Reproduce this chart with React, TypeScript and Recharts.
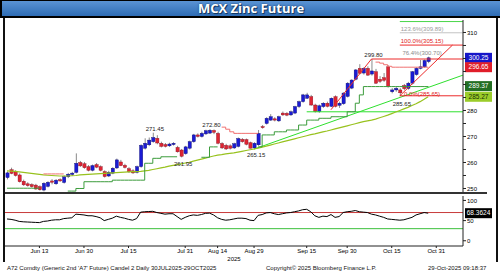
import React from 'react';
import { ComposedChart, Bar, Line, XAxis, YAxis, ReferenceLine, ReferenceDot } from 'recharts';

// daily candles, index 0 = first session on the chart
const opens = [
  254.2, 257.2, 256.5, 255.2, 252.8, 251.8, 251.5, 251.3, 250.7, 249.4,
  250.8, 252.9, 251.8, 253.4, 252.3, 254.5, 255.4, 256.2, 260.0, 259.5,
  258.4, 257.0, 259.2, 258.4, 256.5, 254.8, 255.9, 257.9, 260.2, 258.9,
  257.6, 256.8, 256.2, 258.4, 265.5, 266.8, 268.0, 269.3, 267.4, 266.9,
  266.4, 266.9, 265.8, 264.8, 263.4, 265.5, 268.0, 270.6, 270.0, 271.0,
  271.3, 272.3, 271.2, 267.3, 266.6, 266.4, 265.6, 266.2, 268.9, 268.8,
  267.6, 265.6, 266.8, 273.8, 275.0, 276.3, 276.8, 276.0, 279.0, 278.9,
  278.3, 279.0, 281.5, 283.4, 284.7, 285.3, 282.1, 279.6, 281.5, 282.8,
  281.6, 285.3, 282.0, 282.6, 285.4, 288.6, 292.0, 296.2, 294.4, 296.2,
  294.0, 294.9, 292.0, 292.6, 296.8, 287.2, 287.9, 287.9, 289.6, 288.5,
  290.5, 293.8, 296.2, 296.8, 298.8,
];
const highs = [
  256.5, 258.0, 257.0, 255.8, 253.4, 252.4, 252.0, 251.8, 251.2, 252.4,
  252.8, 253.6, 253.6, 253.9, 255.0, 256.0, 256.4, 263.5, 260.6, 260.2,
  259.0, 259.2, 259.8, 258.9, 257.0, 256.8, 258.2, 261.5, 261.0, 259.5,
  258.2, 257.4, 258.8, 267.0, 269.3, 269.6, 271.45, 270.5, 268.0, 267.5,
  267.6, 267.8, 266.4, 265.2, 266.4, 268.4, 271.0, 271.2, 271.8, 272.6,
  272.8, 272.7, 271.8, 267.8, 267.2, 267.0, 267.6, 269.6, 269.4, 269.2,
  268.0, 267.8, 272.5, 274.4, 277.4, 278.6, 277.4, 278.0, 279.6, 279.4,
  280.0, 281.8, 283.8, 286.4, 286.8, 286.0, 282.6, 282.3, 283.2, 283.4,
  285.0, 285.8, 283.4, 287.0, 290.9, 292.0, 295.9, 297.8, 296.6, 297.0,
  299.8, 296.0, 293.2, 294.4, 297.4, 288.6, 289.0, 288.6, 290.2, 291.0,
  295.2, 296.6, 299.4, 299.6, 300.7,
];
const lows = [
  253.5, 255.5, 254.6, 252.3, 251.0, 250.7, 250.3, 249.5, 249.2, 248.9,
  250.4, 251.6, 251.4, 252.6, 251.9, 254.0, 254.8, 255.8, 258.3, 257.6,
  256.6, 256.6, 257.8, 256.6, 254.2, 254.4, 255.5, 257.5, 258.6, 257.7,
  256.0, 255.6, 255.8, 258.0, 265.0, 266.3, 267.6, 267.0, 265.8, 265.8,
  266.0, 266.5, 263.8, 261.95, 263.0, 265.0, 267.6, 269.6, 269.6, 270.6,
  271.0, 270.9, 267.0, 265.2, 264.8, 265.0, 265.2, 265.8, 267.6, 266.6,
  265.4, 265.15, 266.4, 273.0, 274.6, 276.0, 275.8, 275.6, 277.9, 277.8,
  277.9, 278.6, 281.0, 283.0, 284.4, 281.8, 279.2, 279.1, 281.0, 281.2,
  281.3, 281.2, 281.0, 282.2, 285.0, 288.2, 291.6, 293.9, 293.8, 293.3,
  293.4, 290.2, 290.6, 291.0, 288.8, 286.6, 287.2, 285.65, 287.8, 288.0,
  290.0, 293.4, 295.8, 296.4, 298.2,
];
const closes = [
  256.0, 255.8, 255.0, 252.6, 251.4, 251.1, 250.7, 249.8, 249.5, 252.0,
  252.4, 252.4, 253.2, 252.9, 254.5, 255.5, 255.9, 259.7, 258.7, 258.0,
  257.0, 258.8, 258.2, 257.0, 254.6, 256.2, 257.8, 261.0, 258.8, 258.1,
  256.4, 256.0, 258.4, 266.6, 267.4, 268.6, 269.6, 267.5, 266.2, 266.2,
  267.1, 267.4, 264.1, 262.4, 266.0, 268.0, 270.6, 270.0, 271.2, 272.2,
  272.4, 271.6, 267.4, 265.6, 265.2, 265.5, 267.2, 269.2, 268.0, 267.0,
  265.5, 267.4, 271.2, 273.4, 277.0, 277.6, 276.3, 277.6, 278.3, 278.2,
  279.5, 281.5, 283.4, 286.0, 286.0, 282.1, 279.6, 281.8, 282.8, 281.6,
  284.7, 281.6, 282.8, 286.7, 290.5, 291.7, 295.6, 294.3, 296.2, 293.6,
  295.2, 290.5, 291.2, 291.6, 289.2, 287.9, 288.5, 286.8, 288.4, 290.5,
  294.9, 296.2, 296.8, 299.2, 300.25,
];

// olive moving average
const movingAvg = [
  256.8, 256.7, 256.6, 256.4, 256.2, 256.0, 255.8, 255.6, 255.4, 255.2,
  255.1, 255.0, 254.9, 254.8, 254.8, 254.8, 254.9, 255.0, 255.2, 255.3,
  255.4, 255.5, 255.6, 255.7, 255.8, 255.9, 256.0, 256.1, 256.2, 256.3,
  256.4, 256.5, 256.5, 256.6, 256.8, 257.0, 257.3, 257.6, 257.9, 258.2,
  258.6, 258.9, 259.2, 259.5, 259.8, 260.1, 260.5, 260.9, 261.3, 261.7,
  262.1, 262.5, 262.8, 263.0, 263.3, 263.5, 263.7, 264.0, 264.3, 264.6,
  264.9, 265.2, 265.5, 265.9, 266.3, 266.7, 267.1, 267.5, 267.9, 268.3,
  268.7, 269.1, 269.5, 269.9, 270.3, 270.7, 271.0, 271.4, 271.8, 272.1,
  272.5, 272.9, 273.3, 273.7, 274.1, 274.5, 274.9, 275.3, 275.7, 276.0,
  276.3, 276.7, 277.2, 277.7, 278.2, 278.8, 279.4, 280.0, 280.6, 281.2,
  281.9, 282.6, 283.4, 284.3, 285.27,
];

// trailing stop, green under price / red over price
const _ = null;
const stopLow = [
  250.1, 250.1, 250.1, 250.1, 250.1, 250.1, 250.1, 250.1, 250.1, _,
  _, _, _, _, _, 249.0, 249.0, 250.0, 250.0, 252.6,
  252.6, 252.6, 252.6, 252.6, 252.6, 252.6, 253.2, 253.2, 253.2, 253.2,
  253.2, 253.2, 253.2, 253.2, 259.7, 259.7, 261.6, 261.6, 262.2, 262.2,
  262.2, 262.2, 262.2, _, _, _, _, _, 262.0, 262.0,
  266.0, 266.0, 266.0, _, _, _, _, _, _, _,
  _, _, 266.0, 270.6, 270.6, 270.6, 271.8, 271.8, 271.8, 272.5,
  272.5, 272.5, 274.4, 274.4, 276.3, 276.3, 276.3, 277.0, 277.0, 277.0,
  277.6, 277.6, 277.6, 277.6, 279.5, 279.5, 282.8, 286.0, 289.2, 289.2,
  289.2, 289.2, 289.2, 289.2, 289.2, 289.2, 289.2, 289.2, 289.2, 289.2,
  289.2, 289.2, 289.2, 289.2, 289.37,
];
const stopHigh = [
  _, _, _, _, _, _, _, _, _, 255.6,
  255.6, 255.6, 255.6, 255.6, 255.6, _, _, _, _, _,
  _, _, _, _, _, _, _, _, _, _,
  _, _, _, _, _, _, _, _, _, _,
  _, _, _, _, _, _, _, _, _, _,
  _, _, _, 273.6, 272.8, 271.8, 271.2, 271.2, 271.2, 271.2,
  271.2, 271.2, 271.2, _, _, _, _, _, _, _,
  _, _, _, _, _, _, _, _, _, _,
  _, _, _, _, _, _, _, _, _, _,
  _, 298.6, 298.2, 297.6, 297.0, 296.65, 296.65, 296.65, 296.65, 296.65,
  296.65, 296.65, 296.65, 296.65, 296.65,
];

const rsi = [
  54, 53, 51, 48, 47, 46.5, 46, 45.5, 45, 48,
  49, 51, 52, 52, 55, 56, 57, 66, 65, 64,
  62, 62, 60, 57, 50, 53, 56, 61, 58, 56,
  53, 51, 55, 71, 72, 72.5, 73, 70, 68, 66,
  67, 67, 60, 53, 58, 62, 64, 63, 65, 68,
  68.5, 64, 57, 53, 51, 52, 54, 56, 56, 55,
  51, 50, 63, 65, 69, 70, 67, 65, 67, 69,
  70, 72, 74, 77, 78, 72, 62, 58, 61, 60,
  65, 58, 60, 70, 72, 73, 75, 72, 71, 70,
  66, 64, 61, 58, 54, 53, 52, 51, 52, 55,
  58, 64, 67, 70, 68.36,
];

const dateTicks = [8, 19, 30, 44, 52, 61, 74, 84, 95, 106];
const dateLabels = ['Jun 13', 'Jun 30', 'Jul 15', 'Jul 31', 'Aug 14', 'Aug 29', 'Sep 15', 'Sep 30', 'Oct 15', 'Oct 31'];
const priceTicks = [250, 255, 260, 265, 270, 275, 280, 285, 290, 295, 300, 305, 310];
// 290 and 300 sit under the last-value tags, so they carry no text
const priceLabels = [250, 260, 270, 280, 310];

// drawn studies: [x1, y1, x2, y2, colour]
const studyLines: [number, number, number, number, string][] = [
  [61, 265.15, 112.6, 293.6, '#2ee02e'],
  [74, 279.5, 112.6, 279.5, '#2ee02e'],
  [80, 280.3, 90, 299.8, '#ec2b2b'],
  [90, 299.8, 112.6, 299.8, '#ec2b2b'],
  [97, 285.65, 110, 305.15, '#ec2b2b'],
  [97, 285.65, 112.6, 285.65, '#ec2b2b'],
  [97, 305.15, 112.6, 305.15, '#ec2b2b'],
  [97, 309.89, 112.6, 309.89, '#c4c4c4'],
  [97, 314.2, 112.6, 314.2, '#49d649'],
];
// [x, y, text, offset px, colour]
const priceNotes: [number, number, string, number, string][] = [
  [36.5, 271.45, '271.45', -4, '#222'],
  [43.5, 261.95, '261.95', 6, '#222'],
  [50.5, 272.8, '272.80', -4, '#222'],
  [61.5, 265.15, '265.15', 6, '#222'],
  [90.5, 299.8, '299.80', -4, '#222'],
  [97.5, 285.65, '285.65', 8, '#222'],
  [102.5, 309.89, '123.6%(309.89)', -4, '#9a9a9a'],
  [102.5, 305.15, '100.0%(305.15)', -4, '#e02020'],
  [102.5, 300.7, '76.4%(300.70)', -4, '#8a8a8a'],
  [102.5, 285.65, '0.0%(285.65)', -2, '#e02020'],
];
// last values on the right scale: [value, text, bg, fg]
const lastTags: [number, string, string, string][] = [
  [300.25, '300.25', '#1616c8', '#fff'],
  [296.65, '296.65', '#e01e2a', '#fff'],
  [289.37, '289.37', '#236e23', '#fff'],
  [285.27, '285.27', '#9bcc2a', '#173000'],
];

const rows = opens.map((o, i) => ({
  i,
  o,
  h: highs[i],
  l: lows[i],
  c: closes[i],
  range: [lows[i], highs[i]],
  ma: movingAvg[i],
  stopLow: stopLow[i],
  stopHigh: stopHigh[i],
  rsi: rsi[i],
}));

const FONT = '"Liberation Sans", Arial, sans-serif';
const X_DOMAIN: [number, number] = [-0.5, 112.6];

const Candle = (props: any) => {
  const { x, y, width, height, payload } = props;
  if (!payload || payload.h == null) return null;
  const { o, h, l, c } = payload;
  const cx = x + width / 2;
  const k = h === l ? 0 : height / (h - l);
  const yo = y + (h - o) * k;
  const yc = y + (h - c) * k;
  const up = c >= o;
  return (
    <g>
      <line x1={cx} x2={cx} y1={y} y2={y + height} stroke="#8a8a8a" strokeWidth={1} />
      <rect
        x={cx - 1.6}
        y={Math.min(yo, yc)}
        width={3.2}
        height={Math.max(Math.abs(yo - yc), 1)}
        fill={up ? '#1b1bd4' : '#de2533'}
        stroke={up ? '#0b0b70' : '#8a1020'}
        strokeWidth={0.4}
      />
    </g>
  );
};

const Tag = (props: any) => {
  const { viewBox, text, bg, fg } = props;
  if (!viewBox) return null;
  const x = viewBox.x + viewBox.width + 2;
  const y = viewBox.y;
  return (
    <g>
      <rect x={x} y={y - 5} width={27} height={10} fill={bg} />
      <text x={x + 13.5} y={y + 2.3} textAnchor="middle" fontSize={6.5} fill={fg} fontFamily={FONT}>
        {text}
      </text>
    </g>
  );
};

const Note = (props: any) => {
  const { viewBox, text, dy, fill } = props;
  if (!viewBox) return null;
  const cx = viewBox.x + viewBox.width / 2;
  const cy = viewBox.y + viewBox.height / 2;
  return (
    <text x={cx} y={cy + dy + 2.1} textAnchor="middle" fontSize={6} fill={fill} fontFamily={FONT}>
      {text}
    </text>
  );
};

export default function App() {
  return (
    <div style={{ position: 'absolute', left: 0, top: 0, width: 500, height: 280, background: '#fff', overflow: 'hidden', fontFamily: FONT }}>
      <div
        style={{
          position: 'absolute', left: 0, top: 0, width: 498, height: 15,
          borderTop: '1px solid #000', borderBottom: '2px solid #000', borderLeft: '2px solid #000',
          background: 'linear-gradient(#5a93d4, #2e6cb4)',
          color: '#fff', fontFamily: '"Open Sans", sans-serif', fontWeight: 700, fontSize: 13,
          lineHeight: '15px', textAlign: 'center', textShadow: '0 0 2px #10305a, 1px 1px 0 #173b66',
        }}
      >
        MCX Zinc Future
      </div>

      <div style={{ position: 'absolute', left: 0, top: 18 }}>
        <ComposedChart width={500} height={176} data={rows} margin={{ top: 2, right: 0, bottom: 2, left: 5 }}>
          <XAxis dataKey="i" type="number" domain={X_DOMAIN} allowDataOverflow hide height={0} />
          <YAxis
            orientation="right"
            width={37}
            domain={[248.65, 314.8]}
            allowDataOverflow
            ticks={priceTicks}
            interval={0}
            tickFormatter={(v: number) => (priceLabels.includes(v) ? String(v) : '')}
            tick={{ fontSize: 6, fill: '#000', fontFamily: FONT }}
            tickSize={3}
            tickMargin={1}
            axisLine={{ stroke: '#222' }}
            tickLine={{ stroke: '#222' }}
          />
          {studyLines.map(([x1, y1, x2, y2, col], k) => (
            <ReferenceLine key={'s' + k} segment={[{ x: x1, y: y1 }, { x: x2, y: y2 }]} stroke={col} strokeWidth={1} />
          ))}
          <Line dataKey="ma" stroke="#98c21e" strokeWidth={1.2} dot={false} isAnimationActive={false} />
          <Line dataKey="stopLow" type="stepAfter" stroke="#3c9c3c" strokeWidth={1} dot={false} connectNulls={false} isAnimationActive={false} />
          <Line dataKey="stopHigh" type="stepAfter" stroke="#f07070" strokeWidth={1} dot={false} connectNulls={false} isAnimationActive={false} />
          <Bar dataKey="range" barSize={3} shape={<Candle />} isAnimationActive={false} />
          {priceNotes.map(([x, y, text, dy, fill], k) => (
            <ReferenceDot key={'n' + k} x={x} y={y} r={0} fill="none" stroke="none" label={<Note text={text} dy={dy} fill={fill} />} />
          ))}
          {lastTags.map(([v, text, bg, fg], k) => (
            <ReferenceLine key={'t' + k} y={v} stroke="none" label={<Tag text={text} bg={bg} fg={fg} />} />
          ))}
        </ComposedChart>
      </div>

      <div style={{ position: 'absolute', left: 5, top: 192, width: 482, height: 2, background: '#333' }} />

      <div style={{ position: 'absolute', left: 0, top: 194 }}>
        <ComposedChart width={500} height={66} data={rows} margin={{ top: 2, right: 0, bottom: 0, left: 5 }}>
          <XAxis
            dataKey="i"
            type="number"
            domain={X_DOMAIN}
            allowDataOverflow
            ticks={dateTicks}
            interval={0}
            tickFormatter={(v: number) => dateLabels[dateTicks.indexOf(v)] ?? ''}
            tick={{ fontSize: 6, fill: '#000', fontFamily: FONT }}
            tickSize={2}
            tickMargin={1}
            height={14}
            axisLine={{ stroke: '#222' }}
            tickLine={{ stroke: '#222' }}
          />
          <YAxis
            orientation="right"
            width={37}
            domain={[-13, 111]}
            allowDataOverflow
            ticks={[0, 50, 100]}
            interval={0}
            tick={{ fontSize: 6, fill: '#000', fontFamily: FONT }}
            tickSize={3}
            tickMargin={1}
            axisLine={{ stroke: '#222' }}
            tickLine={{ stroke: '#222' }}
          />
          <ReferenceLine y={70} stroke="#c83a3a" strokeWidth={1} />
          <ReferenceLine y={30} stroke="#3cc03c" strokeWidth={1} />
          <Line dataKey="rsi" stroke="#000" strokeWidth={1} dot={false} isAnimationActive={false} />
          <ReferenceLine y={68.3624} stroke="none" label={<Tag text="68.3624" bg="#000" fg="#fff" />} />
        </ComposedChart>
      </div>

      <div style={{ position: 'absolute', left: 222, top: 256, width: 24, textAlign: 'center', fontSize: 6, color: '#000' }}>2025</div>

      <div style={{ position: 'absolute', left: 7, top: 265, fontSize: 6, color: '#111', whiteSpace: 'nowrap' }}>
        A72 Comdty (Generic 2nd 'A7' Future) Candel 2 Daily 30JUL2025-29OCT2025
      </div>
      <div style={{ position: 'absolute', left: 266, top: 265, fontSize: 6, color: '#111', whiteSpace: 'nowrap' }}>
        Copyright© 2025 Bloomberg Finance L.P.
      </div>
      <div style={{ position: 'absolute', left: 428, top: 265, fontSize: 6, color: '#111', whiteSpace: 'nowrap' }}>
        29-Oct-2025 09:18:37
      </div>

      <div style={{ position: 'absolute', left: 3, top: 18, width: 2, height: 244, background: '#111' }} />
      <div style={{ position: 'absolute', left: 496, top: 18, width: 2, height: 244, background: '#111' }} />
    </div>
  );
}
